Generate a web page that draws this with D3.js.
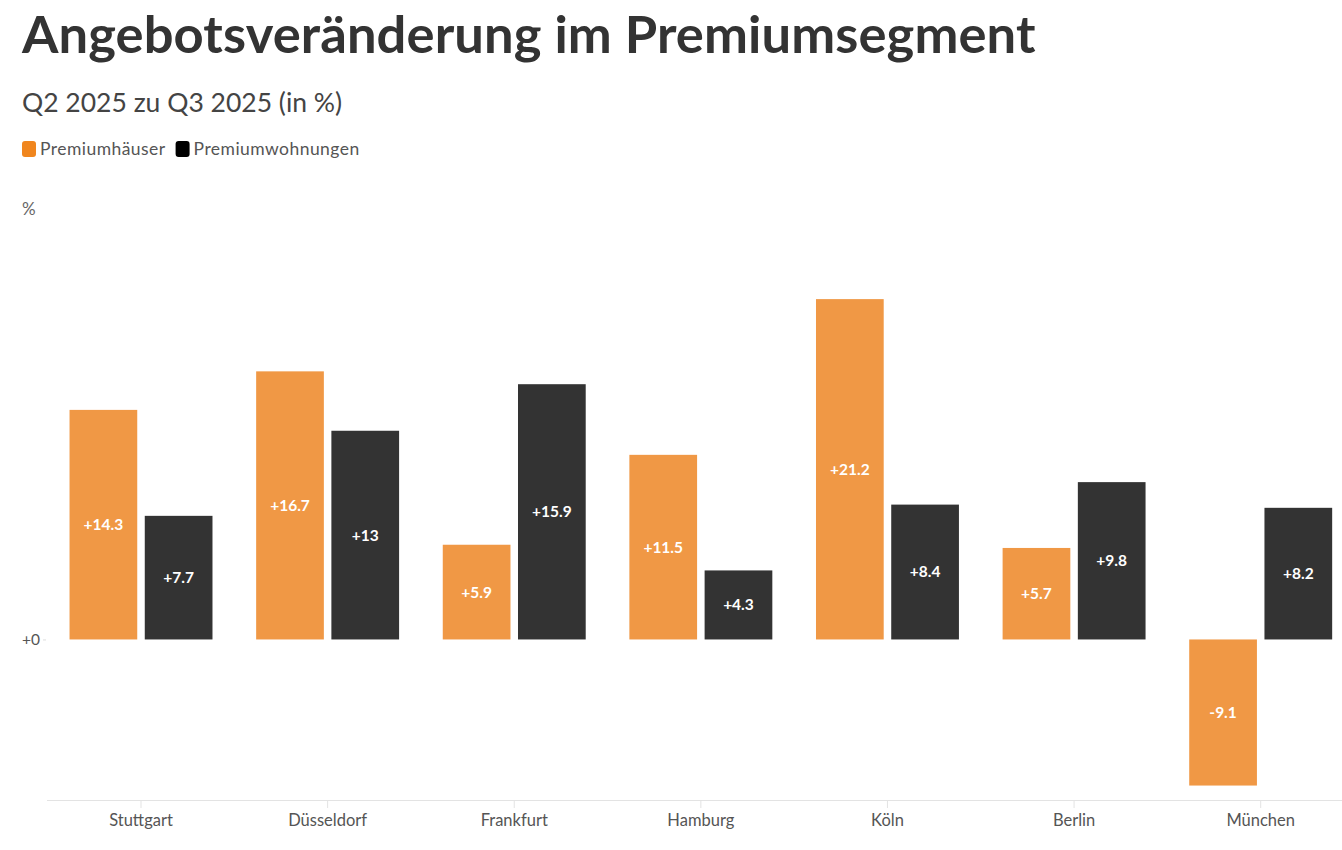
<!DOCTYPE html>
<html>
<head>
<meta charset="utf-8">
<script src="https://cdn.jsdelivr.net/npm/d3@7"></script>
<style>
  body { margin: 0; background: #fff; }
  text { font-family: "Source Sans Pro", Lato, "Noto Sans", sans-serif; }
</style>
</head>
<body>
<div id="chart"></div>
<script>
// data
var cities = ["Stuttgart", "Düsseldorf", "Frankfurt", "Hamburg", "Köln", "Berlin", "München"];
var seriesNames = ["Premiumhäuser", "Premiumwohnungen"];
var haeuser = [14.3, 16.7, 5.9, 11.5, 21.2, 5.7, -9.1];
var wohnungen = [7.7, 13, 15.9, 4.3, 8.4, 9.8, 8.2];
var yTicks = [0];

var barColors = ["#f09845", "#333333"];
var legendColors = ["#f0861e", "#000000"];

var svgWidth = 1342, svgHeight = 850;
var fontStack = "\"Source Sans Pro\", Lato, \"Noto Sans\", sans-serif";

var svg = d3.select("#chart")
  .append("svg")
  .attr("width", svgWidth)
  .attr("height", svgHeight);

// title + subtitle
svg.append("text")
  .attr("x", 22).attr("y", 52.5)
  .attr("font-size", 52.5).attr("font-weight", 700)
  .attr("letter-spacing", 0.1)
  .attr("fill", "#333")
  .text("Angebotsveränderung im Premiumsegment");

svg.append("text")
  .attr("x", 22).attr("y", 112)
  .attr("font-size", 26.5)
  .attr("fill", "#444")
  .text("Q2 2025 zu Q3 2025 (in %)");

// legend
var legend = svg.append("g").attr("transform", "translate(22,141)");
var lx = 0;
seriesNames.forEach(function (name, i) {
  var item = legend.append("g").attr("transform", `translate(${lx},0)`);
  item.append("rect")
    .attr("width", 14).attr("height", 16)
    .attr("rx", 3)
    .attr("fill", legendColors[i]);
  var t = item.append("text")
    .attr("x", 18).attr("y", 13.5)
    .attr("font-size", 17.5)
    .attr("letter-spacing", 0.45)
    .attr("fill", "#555")
    .text(name);
  lx += 18 + t.node().getComputedTextLength() + 10;
});

// scales
var x0 = d3.scaleBand()
  .domain(cities)
  .range([47.7, 1354])
  .paddingInner(0.234)
  .paddingOuter(0.117);

var x1 = d3.scaleBand()
  .domain(seriesNames)
  .range([0, x0.bandwidth()])
  .paddingInner(0.1);

var y = d3.scaleLinear()
  .domain([-10, 27])
  .range([800, 206]);

// axes
var xAxis = svg.append("g")
  .attr("transform", "translate(0,800)")
  .call(d3.axisBottom(x0).tickSize(8).tickPadding(6));
xAxis.select(".domain").attr("stroke", "#e3e3e3").attr("d", "M47,0.5H1342");
xAxis.selectAll(".tick line").attr("stroke", "#e3e3e3");
xAxis.selectAll(".tick text")
  .attr("font-size", 16.5)
  .attr("fill", "#555")
  .attr("font-family", fontStack);

var yAxis = svg.append("g")
  .attr("transform", "translate(46,0)")
  .call(d3.axisLeft(y).tickValues(yTicks).tickSize(3).tickPadding(3)
    .tickFormat(function (d) { return (d >= 0 ? "+" : "") + d; }));
yAxis.select(".domain").remove();
yAxis.selectAll(".tick line").attr("stroke", "#ddd");
yAxis.selectAll(".tick text")
  .attr("font-size", 15.5)
  .attr("fill", "#555")
  .attr("font-family", fontStack);

svg.append("text")
  .attr("x", 22).attr("y", 215)
  .attr("font-size", 17)
  .attr("fill", "#666")
  .text("%");

// bars
var rows = cities.map(function (c, i) {
  return { city: c, values: [haeuser[i], wohnungen[i]] };
});

var groups = svg.selectAll(".city")
  .data(rows)
  .join("g")
  .attr("class", "city")
  .attr("transform", d => `translate(${x0(d.city)},0)`);

var bars = groups.selectAll("g.bar")
  .data(d => d.values.map((v, i) => ({ series: seriesNames[i], value: v, i: i })))
  .join("g")
  .attr("class", "bar");

bars.append("rect")
  .attr("x", d => x1(d.series))
  .attr("width", x1.bandwidth())
  .attr("y", d => y(Math.max(0, d.value)))
  .attr("height", d => Math.abs(y(d.value) - y(0)))
  .attr("fill", d => barColors[d.i]);

bars.append("text")
  .attr("x", d => x1(d.series) + x1.bandwidth() / 2)
  .attr("y", d => (y(d.value) + y(0)) / 2)
  .attr("dy", "0.35em")
  .attr("text-anchor", "middle")
  .attr("font-size", 15.5)
  .attr("font-weight", 700)
  .attr("fill", "#fff")
  .text(d => (d.value > 0 ? "+" : "") + d.value);
</script>
</body>
</html>
